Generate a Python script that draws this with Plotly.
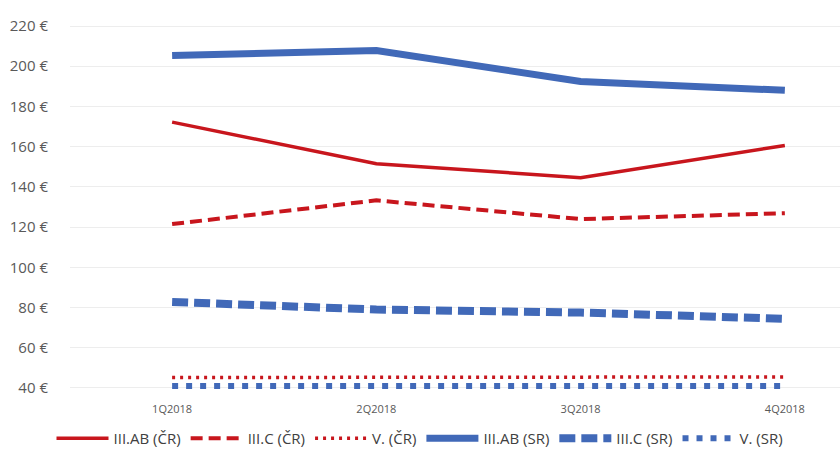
import plotly.graph_objects as go

quarters = ["1Q2018", "2Q2018", "3Q2018", "4Q2018"]
ab_cr = [172.2, 151.5, 144.6, 160.6]
c_cr = [121.5, 133.3, 124.0, 126.9]
v_cr = [45.2, 45.2, 45.3, 45.5]
ab_sr = [205.3, 207.8, 192.4, 188.0]
c_sr = [82.8, 79.0, 77.5, 74.4]
v_sr = [41.0, 41.0, 41.0, 41.0]
y_ticks = [40, 60, 80, 100, 120, 140, 160, 180, 200, 220]
y_labels = [f"{v} €" for v in y_ticks]

RED = "#C8161D"
BLUE = "#4169B8"

series = [
    ("III.AB (ČR)", ab_cr, RED, 3.5, "solid"),
    ("III.C (ČR)", c_cr, RED, 4, "12px,6px"),
    ("V. (ČR)", v_cr, RED, 3.5, "3px,5px"),
    ("III.AB (SR)", ab_sr, BLUE, 7, "solid"),
    ("III.C (SR)", c_sr, BLUE, 8, "16px,6px"),
    ("V. (SR)", v_sr, BLUE, 6, "6px,8px"),
]

fig = go.Figure()
for name, vals, col, w, dash in series:
    fig.add_trace(go.Scatter(x=quarters, y=vals, name=name, mode="lines",
                             line=dict(color=col, width=w, dash=dash)))

fig.update_layout(
    width=840, height=455,
    margin=dict(l=70, r=0, t=24, b=66),
    paper_bgcolor="white", plot_bgcolor="white",
    font=dict(family="Open Sans", color="#595959", size=14),
    showlegend=True,
    legend=dict(orientation="h", xref="container", x=0.5, xanchor="center",
                yref="container", y=0.0, yanchor="bottom",
                font=dict(size=15, color="#404040"), itemwidth=52,
                tracegroupgap=0),
    xaxis=dict(type="category", range=[-0.5, 3.27], showgrid=False,
               showline=False, zeroline=False,
               tickfont=dict(size=11, color="#595959"),
               ticks="outside", ticklen=10, tickcolor="rgba(0,0,0,0)"),
    yaxis=dict(range=[39.5, 221], tickvals=y_ticks, ticktext=y_labels,
               showgrid=True, gridcolor="#EDEDED", gridwidth=1,
               zeroline=False, showline=False,
               tickfont=dict(size=15, color="#595959"),
               ticks="outside", ticklen=18, tickcolor="rgba(0,0,0,0)"),
)

fig.write_html("out.html", config={"displayModeBar": False},
               post_script="document.body.style.margin='0';")
